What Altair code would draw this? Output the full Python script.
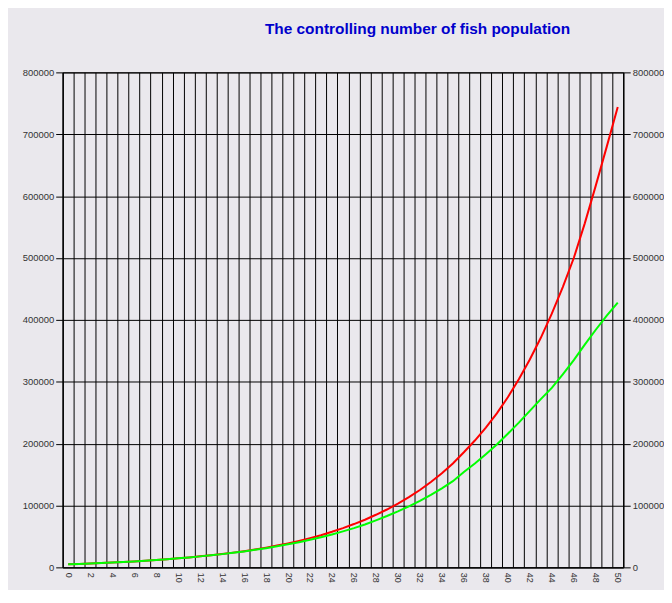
import altair as alt
import pandas as pd

# ---- data ----
steps = list(range(51))

red_values = [
    4900, 5500, 6200, 6900, 7700, 8600, 9600, 10700, 11900, 13200,
    14600, 16100, 17800, 19600, 21600, 23800, 26200, 28900, 31900, 35200,
    38800, 42800, 47200, 52000, 57500, 63500, 70000, 77000, 85000, 93500,
    103000, 113500, 125000, 138000, 152000, 168000, 186000, 205000, 226000, 249000,
    275000, 304000, 336000, 371000, 410000, 453000, 500000, 556000, 617000, 680000,
    744000,
]

green_values = [
    4900, 5500, 6200, 6900, 7700, 8600, 9600, 10700, 11900, 13200,
    14600, 16100, 17750, 19500, 21400, 23500, 25800, 28300, 31000, 34000,
    37200, 40700, 44500, 48700, 53200, 58100, 63400, 69300, 76000, 83000,
    90500, 98700, 107600, 117300, 127800, 139300, 154000, 168000, 183000, 198500,
    216000, 234000, 253000, 272000, 290000, 312000, 335000, 360000, 384000, 407000,
    428000,
]

series_names = ["red", "green"]
series_colors = ["#FF0000", "#00FF00"]
y_ticks = [0, 100000, 200000, 300000, 400000, 500000, 600000, 700000, 800000]
title_text = "The controlling number of fish population"

df = pd.DataFrame({
    "step": steps + steps,
    "value": red_values + green_values,
    "series": [series_names[0]] * len(steps) + [series_names[1]] * len(steps),
})

bg = "#EAE8ED"
x_enc = alt.X(
    "step:O",
    scale=alt.Scale(type="band", paddingInner=0, paddingOuter=0),
    axis=alt.Axis(
        title=None,
        tickBand="extent",
        grid=True,
        gridColor="#000000",
        gridOpacity=1,
        gridWidth=1,
        ticks=False,
        domainColor="#000000",
        labelAngle=90,
        labelAlign="left",
        labelBaseline="middle",
        labelPadding=5,
        labelFontSize=9,
        labelFont="Liberation Sans",
        labelColor="#333333",
        labelOverlap=False,
        labelExpr="datum.value % 2 == 0 ? datum.label : ''",
    ),
)

y_scale = alt.Scale(domain=[0, 800000], nice=False)

left = alt.Chart(df).mark_line(strokeWidth=2).encode(
    x=x_enc,
    y=alt.Y(
        "value:Q",
        scale=y_scale,
        axis=alt.Axis(
            orient="left",
            title=None,
            values=y_ticks,
            format="d",
            grid=True,
            gridColor="#000000",
            gridOpacity=1,
            domainColor="#000000",
            tickColor="#000000",
            tickSize=7,
            labelPadding=2,
            labelFontSize=9.5,
            labelFont="Liberation Sans",
            labelColor="#333333",
            minExtent=50,
        ),
    ),
    color=alt.Color(
        "series:N",
        scale=alt.Scale(domain=series_names, range=series_colors),
        legend=None,
    ),
)

right = alt.Chart(df).mark_line(opacity=0).encode(
    x=x_enc,
    y=alt.Y(
        "value:Q",
        scale=y_scale,
        axis=alt.Axis(
            orient="right",
            title=None,
            values=y_ticks,
            format="d",
            grid=False,
            domainColor="#000000",
            tickColor="#000000",
            tickSize=7,
            labelPadding=2,
            labelFontSize=9.5,
            labelFont="Liberation Sans",
            labelColor="#333333",
        ),
    ),
    detail="series:N",
)

chart = (
    alt.layer(left, right)
    .resolve_axis(y="independent")
    .properties(
        width=564,
        height=498,
        padding={"left": 5, "top": 12, "right": 0, "bottom": 5},
        background=bg,
        title=alt.TitleParams(
            title_text,
            font="Liberation Sans",
            fontSize=15.5,
            fontWeight="bold",
            color="#0000CC",
            anchor="middle",
            dx=75,
            offset=30,
        ),
    )
    .configure_view(stroke="#000000", fill=bg)
)

chart.save("out.html", embed_options={"renderer": "svg", "actions": False})
